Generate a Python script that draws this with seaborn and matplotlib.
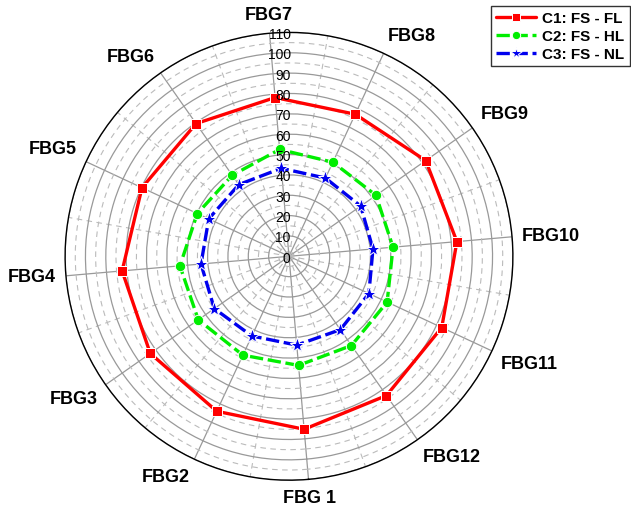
import numpy as np
import pandas as pd
import matplotlib
matplotlib.use('Agg')
import matplotlib.pyplot as plt
import seaborn as sns

# sensor positions and readings
FBG_LABELS = ['FBG 1', 'FBG2', 'FBG3', 'FBG4', 'FBG5', 'FBG6',
              'FBG7', 'FBG8', 'FBG9', 'FBG10', 'FBG11', 'FBG12']
C1_FL = [85.3, 84.0, 83.2, 82.3, 79.7, 79.6, 78.3, 77.0, 82.0, 82.8, 82.8, 83.5]
C2_HL = [53.8, 53.6, 54.4, 53.8, 49.7, 48.6, 52.7, 51.0, 52.2, 51.3, 53.2, 53.5]
C3_NL = [43.8, 43.2, 44.8, 43.4, 43.5, 43.0, 43.4, 42.4, 43.0, 41.4, 43.3, 44.0]
SERIES_NAMES = ['C1: FS - FL', 'C2: FS - HL', 'C3: FS - NL']
R_TICKS = list(range(0, 111, 10))
OFFSET_DEG = -85   # where FBG 1 sits (math angle)

sns.set_style('white')
plt.rcParams['font.family'] = ['Liberation Sans', 'DejaVu Sans']
plt.rcParams['text.color'] = 'black'
plt.rcParams['xtick.color'] = 'black'
plt.rcParams['ytick.color'] = 'black'

fig = plt.figure(figsize=(6.31, 5.06), dpi=100)
rect = [0.103, 0.049, 0.710, 0.885]
ax = fig.add_axes(rect, projection='polar')
ax.set_theta_direction(-1)
ax.set_theta_offset(np.deg2rad(OFFSET_DEG))

theta_deg = np.arange(0, 360, 30)
theta = np.deg2rad(theta_deg)
theta_closed = np.append(theta, 2 * np.pi)

styles = [
    dict(color='#ff0000', marker='s', markersize=7, linestyle='-'),
    dict(color='#00ee00', marker='o', markersize=7.5, linestyle=(0, (4, 1.4))),
    dict(color='#0000ee', marker='*', markersize=11, linestyle=(0, (4, 1.4))),
]
for vals, name, st in zip([C1_FL, C2_HL, C3_NL], SERIES_NAMES, styles):
    df = pd.DataFrame({'theta': theta_closed, 'value': np.append(vals, vals[0])})
    sns.lineplot(data=df, x='theta', y='value', ax=ax, sort=False, estimator=None,
                 linewidth=2.4, markeredgecolor='white', markeredgewidth=0.7,
                 label=name, zorder=5, **st)

ax.set_xlabel('')
ax.set_ylabel('')
ax.set_ylim(0, 110)

# angular grid: labelled spokes + dashed spokes in between
ax.set_xticks(theta)
ax.set_xticklabels([])
ax.set_xticks(theta + np.deg2rad(15), minor=True)
ax.xaxis.grid(True, which='major', color='#999999', linewidth=0.9, linestyle='-')
ax.xaxis.grid(True, which='minor', color='#bbbbbb', linewidth=0.8, linestyle=(0, (5, 4)))
ax.tick_params(axis='x', which='major', direction='out', length=5, width=1,
               color='black')
ax.tick_params(axis='x', which='minor', direction='in', length=3, width=0.8,
               color='black')

# spoke names, anchored just outside the rim
for th, lab in zip(theta_deg, FBG_LABELS):
    phi = np.deg2rad(OFFSET_DEG - th)
    cx, cy = np.cos(phi), np.sin(phi)
    ha = 'left' if cx > 0.3 else ('right' if cx < -0.3 else 'center')
    va = 'bottom' if cy > 0.3 else ('top' if cy < -0.3 else 'center')
    ax.annotate(lab, xy=(np.deg2rad(th), 110), xytext=(7.2 * cx, 7.2 * cy),
                textcoords='offset points', ha=ha, va=va,
                fontsize=13, fontweight='bold', annotation_clip=False)

# radial grid: solid every 10, dashed in between
ax.set_yticks(R_TICKS)
ax.set_yticks(np.arange(5, 110, 10), minor=True)
ax.set_yticklabels([])
ax.yaxis.grid(True, which='major', color='#999999', linewidth=0.9, linestyle='-')
ax.yaxis.grid(True, which='minor', color='#bbbbbb', linewidth=0.8, linestyle=(0, (5, 4)))
ax.tick_params(axis='y', which='both', length=0)
ax.spines['polar'].set_color('black')
ax.spines['polar'].set_linewidth(1.0)

leg = ax.get_legend()
if leg is not None:
    leg.remove()
handles, labels = ax.get_legend_handles_labels()
leg = fig.legend(handles, labels, loc='upper right', bbox_to_anchor=(0.998, 0.986),
                 prop={'weight': 'bold', 'size': 11}, frameon=True, fancybox=False,
                 handlelength=2.6, handletextpad=0.4, labelspacing=0.25,
                 borderpad=0.35, borderaxespad=0.0, markerscale=0.8)
leg.get_frame().set_edgecolor('black')
leg.get_frame().set_linewidth(1.0)

# vertical scale 0..110 drawn up through the centre
rax = fig.add_axes(rect, frameon=False)
rax.set_xlim(-110, 110)
rax.set_ylim(-110, 110)
rax.patch.set_alpha(0)
rax.set_xticks([])
rax.set_yticks(R_TICKS)
rax.set_yticklabels([str(v) for v in R_TICKS], fontsize=9)
rax.spines['left'].set_position(('data', 1.5))
rax.tick_params(axis='y', direction='in', length=5, width=1, color='black', pad=1)

fig.savefig('out.png', dpi=100)
